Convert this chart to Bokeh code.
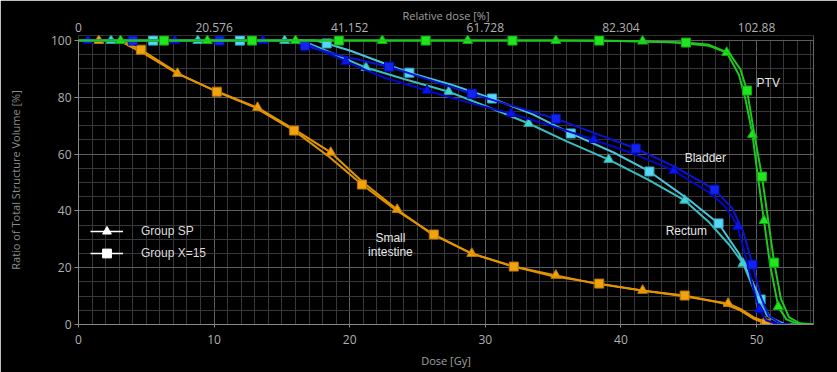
import numpy as np
from bokeh.plotting import figure
from bokeh.models import (Range1d, LinearAxis, FixedTicker, Label, Legend, LegendItem,
                          BoxAnnotation, Span)
from bokeh.embed import file_html
from bokeh.resources import INLINE

# ---------------- data ----------------
dose_ticks = [0, 10, 20, 30, 40, 50]
rel_dose_labels = ["0", "20.576", "41.152", "61.728", "82.304", "102.88"]
dose_minor = list(range(0, 55))
vol_ticks = [0, 20, 40, 60, 80, 100]
vol_minor = list(range(0, 101, 5))

# PTV
ptv_sp_mx = [3.1, 9.5, 16.0, 22.4, 28.7, 35.2, 41.6, 47.8, 49.7, 50.55, 51.6]
ptv_sp_my = [100, 100, 100, 100, 100, 100, 99.8, 95.8, 66.9, 36.6, 6.3]
ptv_sp_sx = [0, 44.0, 46.5, 48.7, 49.2, 50.1, 51.0, 52.2, 53.0, 54.2]
ptv_sp_sy = [100, 99.3, 98.2, 88.0, 79.0, 52.0, 21.0, 1.8, 0.3, 0]

ptv_x15_mx = [6.3, 12.8, 19.2, 25.6, 32.0, 38.4, 44.8, 49.3, 50.4, 51.3]
ptv_x15_my = [100, 100, 100, 100, 100, 100, 99.3, 82.4, 52.1, 21.8]
ptv_x15_sx = [0, 46.5, 48.0, 48.8, 49.8, 50.85, 51.8, 52.4, 53.2, 54.2]
ptv_x15_sy = [100, 98.5, 95.5, 90.0, 68.0, 37.0, 9.0, 2.5, 0.4, 0]

# Bladder
bla_sp_mx = [0.7, 7.1, 13.6, 19.7, 25.7, 31.9, 38.0, 43.9, 48.6, 50.2]
bla_sp_my = [100, 100, 100, 92.6, 82.4, 74.3, 65.1, 54.2, 34.5, 5.3]
bla_sp_sx = [0, 15.5, 17.0, 22.5, 28.5, 35.0, 41.0, 46.5, 47.6, 48.2, 49.2, 49.8, 50.7, 51.5, 52.5]
bla_sp_sy = [100, 100, 98.5, 87.0, 78.5, 69.8, 60.0, 46.5, 42.0, 38.0, 24.0, 12.0, 1.5, 0.2, 0]

bla_x15_mx = [4.0, 10.4, 16.7, 22.9, 29.0, 35.2, 41.1, 46.9, 49.7]
bla_x15_my = [100, 100, 98.2, 90.8, 81.3, 72.5, 62.0, 47.5, 21.1]
bla_x15_sx = [0, 15.5, 19.5, 26.0, 32.0, 38.0, 44.0, 48.2, 49.0, 50.3, 50.9, 51.8, 52.5]
bla_x15_sy = [100, 100, 94.5, 86.0, 77.0, 67.5, 55.5, 41.0, 33.0, 10.0, 3.0, 0.3, 0]

# Rectum
rec_sp_mx = [2.4, 8.8, 15.2, 21.2, 27.3, 33.2, 39.1, 44.7, 49.0]
rec_sp_my = [100, 100, 100, 90.5, 82.0, 70.8, 58.1, 43.7, 21.5]
rec_sp_sx = [0, 16.5, 18.5, 24.0, 30.0, 36.0, 42.0, 46.5, 48.0, 50.0, 50.8, 51.8, 52.5]
rec_sp_sy = [100, 100, 96.0, 86.5, 77.0, 64.5, 51.0, 36.0, 28.0, 10.0, 3.0, 0.3, 0]

rec_x15_mx = [5.5, 11.9, 18.3, 24.4, 30.5, 36.3, 42.1, 47.2, 50.3]
rec_x15_my = [100, 100, 99.0, 88.7, 79.6, 67.3, 53.9, 35.6, 8.8]
rec_x15_sx = [0, 17.5, 20.0, 27.5, 33.5, 39.5, 45.0, 48.7, 49.6, 51.0, 52.0, 52.8]
rec_x15_sy = [100, 100, 96.5, 84.5, 74.0, 60.5, 44.0, 25.0, 16.0, 2.5, 0.3, 0]

# Small intestine
si_sp_mx = [1.5, 7.3, 13.2, 18.6, 23.5, 29.0, 35.2, 41.6, 47.9, 50.6]
si_sp_my = [100, 88.4, 76.4, 60.6, 40.5, 25.0, 17.3, 12.0, 7.4, 1.0]
si_sp_sx = [0, 3.0, 5.0, 10.0, 16.0, 21.0, 26.0, 32.0, 38.0, 44.5, 48.8, 49.8, 51.0, 52.0]
si_sp_sy = [100, 100, 95.0, 82.5, 68.5, 50.0, 32.0, 20.5, 14.5, 10.0, 5.5, 2.5, 0.3, 0]

si_x15_mx = [4.6, 10.2, 15.9, 20.9, 26.2, 32.1, 38.4, 44.7, 50.7]
si_x15_my = [96.8, 82.0, 68.3, 49.3, 31.7, 20.4, 14.4, 10.2, 0.3]
si_x15_sx = [0, 3.2, 7.5, 13.0, 18.5, 23.5, 29.0, 35.0, 41.5, 47.5, 48.8, 49.8, 51.3, 52.0]
si_x15_sy = [100, 100, 88.0, 76.5, 59.0, 40.0, 25.0, 17.0, 12.0, 7.5, 5.0, 2.0, 0.2, 0]

structure_labels = ["PTV", "Bladder", "Rectum", "Small", "intestine"]
label_x = [50.0, 44.7, 43.3, 23.0, 23.0]
label_y = [84.9, 58.8, 33.1, 30.3, 25.7]
label_align = ["left", "left", "left", "center", "center"]

group_names = ["Group SP", "Group X=15"]

X_END = 54.2
Y_END = 101.8

# ---------------- figure ----------------
AX_FONT = "Open Sans"
TXT_FONT = "Liberation Sans"

p = figure(width=837, height=372,
           x_range=Range1d(0, X_END), y_range=Range1d(0, Y_END),
           output_backend="svg", toolbar_location=None,
           background_fill_color="black", border_fill_color="black",
           min_border_left=78, min_border_right=24, min_border_top=35, min_border_bottom=48,
           outline_line_color=None)

xt = FixedTicker(ticks=dose_ticks, minor_ticks=dose_minor)
yt = FixedTicker(ticks=vol_ticks, minor_ticks=vol_minor)

p.xaxis.ticker = xt
p.yaxis.ticker = yt
p.xgrid.ticker = xt
p.ygrid.ticker = yt

for g in (p.xgrid, p.ygrid):
    g.grid_line_color = "#5e5e5e"
    g.grid_line_width = 1
    g.minor_grid_line_color = "#383838"
    g.minor_grid_line_width = 1

# bottom axis
xa = p.xaxis[0]
xa.axis_label = "Dose [Gy]"
xa.axis_line_color = "#8a8a8a"
xa.major_tick_line_color = "#8a8a8a"
xa.major_tick_out = 3
xa.major_tick_in = 0
xa.minor_tick_line_color = None
xa.major_label_standoff = 6
xa.axis_label_standoff = 6
xa.major_label_text_color = "#b0b0b0"
xa.major_label_text_font = AX_FONT
xa.major_label_text_font_size = "12px"
xa.axis_label_text_color = "#a0a0a0"
xa.axis_label_text_font = AX_FONT
xa.axis_label_text_font_size = "11px"
xa.axis_label_text_font_style = "normal"

# left axis
ya = p.yaxis[0]
ya.axis_label = "Ratio of Total Structure Volume [%]"
ya.bounds = (0, 100)
ya.axis_line_color = "#8a8a8a"
ya.major_tick_line_color = "#8a8a8a"
ya.major_tick_out = 4
ya.major_tick_in = 0
ya.minor_tick_line_color = None
ya.major_label_standoff = 3
ya.axis_label_standoff = 25
ya.major_label_text_color = "#b0b0b0"
ya.major_label_text_font = AX_FONT
ya.major_label_text_font_size = "12px"
ya.axis_label_text_color = "#8c8c8c"
ya.axis_label_text_font = AX_FONT
ya.axis_label_text_font_size = "11px"
ya.axis_label_text_font_style = "normal"

# top axis (relative dose)
ta = LinearAxis(ticker=xt, axis_label="Relative dose [%]",
                major_label_overrides={t: l for t, l in zip(dose_ticks, rel_dose_labels)})
ta.axis_line_color = None
ta.major_tick_line_color = None
ta.minor_tick_line_color = None
ta.major_tick_out = 0
ta.major_tick_in = 0
ta.major_label_standoff = 0
ta.axis_label_standoff = -3
ta.major_label_text_color = "#b0b0b0"
ta.major_label_text_font = AX_FONT
ta.major_label_text_font_size = "12px"
ta.axis_label_text_color = "#a0a0a0"
ta.axis_label_text_font = AX_FONT
ta.axis_label_text_font_size = "11px"
ta.axis_label_text_font_style = "normal"
p.add_layout(ta, "above")

# right frame border + cover grid above 100 %
p.add_layout(Span(location=X_END, dimension="height", line_color="#8a8a8a",
                  line_width=1, level="underlay"))
p.add_layout(BoxAnnotation(left=0, right=X_END, bottom=100.3, top=Y_END,
                           fill_color="black", fill_alpha=1.0, line_color=None,
                           level="underlay"))


def curve(mx, my, sx, sy, line_color, m_color, m_line, marker, size):
    xs = np.array(list(mx) + list(sx), dtype=float)
    ys = np.array(list(my) + list(sy), dtype=float)
    order = np.argsort(xs, kind="stable")
    p.line(xs[order], ys[order], line_color=line_color, line_width=2)
    p.scatter(mx, my, marker=marker, size=size, fill_color=m_color,
              line_color=m_line, line_width=1)


curve(si_sp_mx, si_sp_my, si_sp_sx, si_sp_sy, "#e29400", "#f2a20e", "#b87800", "triangle", 10)
curve(si_x15_mx, si_x15_my, si_x15_sx, si_x15_sy, "#e29400", "#f2a20e", "#b87800", "square", 9)
curve(rec_sp_mx, rec_sp_my, rec_sp_sx, rec_sp_sy, "#38c0c0", "#44d6d6", "#2aa0a0", "triangle", 10)
curve(rec_x15_mx, rec_x15_my, rec_x15_sx, rec_x15_sy, "#48c4d8", "#58d8f6", "#38a8c8", "square", 9)
curve(bla_sp_mx, bla_sp_my, bla_sp_sx, bla_sp_sy, "#0406cc", "#0a14ec", "#0008b0", "triangle", 10)
curve(bla_x15_mx, bla_x15_my, bla_x15_sx, bla_x15_sy, "#0a14d4", "#1424f0", "#0010b8", "square", 9)
curve(ptv_sp_mx, ptv_sp_my, ptv_sp_sx, ptv_sp_sy, "#1ec81e", "#20e620", "#10a810", "triangle", 10)
curve(ptv_x15_mx, ptv_x15_my, ptv_x15_sx, ptv_x15_sy, "#1ec81e", "#20e620", "#10a810", "square", 9)

# structure labels
for t, lx, ly, al in zip(structure_labels, label_x, label_y, label_align):
    p.add_layout(Label(x=lx, y=ly, text=t, text_align=al, text_baseline="middle",
                       text_color="#e6e6e6", text_font=TXT_FONT, text_font_size="12px"))

# legend (white samples, not drawn in the plot: NaN data)
l1 = p.line([np.nan], [np.nan], line_color="white", line_width=1.5)
m1 = p.scatter([np.nan], [np.nan], marker="triangle", size=9, fill_color="white", line_color="white")
l2 = p.line([np.nan], [np.nan], line_color="white", line_width=1.5)
m2 = p.scatter([np.nan], [np.nan], marker="square", size=8, fill_color="white", line_color="white")
leg = Legend(items=[LegendItem(label=group_names[0], renderers=[l1, m1]),
                    LegendItem(label=group_names[1], renderers=[l2, m2])],
             location=(12, 60), orientation="vertical",
             glyph_width=33, glyph_height=22, label_height=22, label_standoff=18,
             spacing=0, padding=0, margin=0,
             background_fill_alpha=0, border_line_color=None,
             label_text_color="#dddddd", label_text_font=TXT_FONT,
             label_text_font_size="12px")
p.add_layout(leg, "center")

open("out.html", "w").write(file_html(p, INLINE))
